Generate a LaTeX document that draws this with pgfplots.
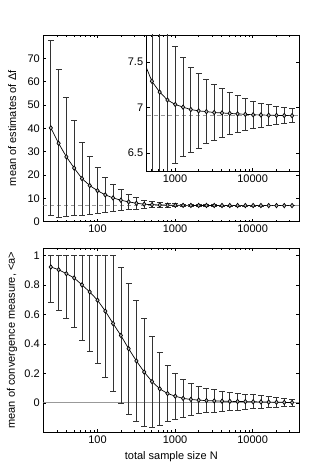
\documentclass[border=0pt]{standalone}
\usepackage{fontspec}
\setmainfont{Liberation Sans}
\usepackage{pgfplots}
\usepackage{pgfplotstable}
\pgfplotsset{compat=1.18}
\definecolor{errgray}{gray}{0.2}
\definecolor{refgray}{gray}{0.6}

% mean of the estimates of Delta f, with its spread
\pgfplotstableread{
N      m      e
25     40.2   37.6
31.5   33.6   31.6
39.7   27.8   25.4
50     23.0   20.4
63     18.5   15.6
79.4   15.5   12.4
100    13.3   9.9
126    11.5   7.6
158.7  10.2   5.9
200    9.2    4.5
252    8.5    3.4
317.5  7.9    2.5
400    7.5    1.8
504    7.29   1.35
635    7.17   1.05
800    7.083  0.85
1008   7.034  0.645
1270   7.004  0.545
1600   6.978  0.47
2016   6.963  0.41
2540   6.955  0.355
3200   6.945  0.31
4032   6.94   0.27
5080   6.935  0.235
6400   6.93   0.205
8063   6.925  0.175
10159  6.92   0.152
12800  6.918  0.133
16127  6.915  0.115
20319  6.913  0.1
25600  6.912  0.087
32254  6.91   0.077
}\estdata

% mean convergence measure <a>; upper bars stop at 1
\pgfplotstableread{
N      m      ep     em
25     0.921  0.079  0.241
31.5   0.903  0.097  0.275
39.7   0.876  0.124  0.306
50     0.847  0.153  0.338
63     0.800  0.200  0.374
79.4   0.752  0.248  0.405
100    0.696  0.304  0.428
126    0.622  0.378  0.451
158.7  0.538  0.461  0.461
200    0.457  0.462  0.462
252    0.367  0.445  0.445
317.5  0.284  0.410  0.410
400    0.209  0.367  0.367
504    0.144  0.308  0.308
635    0.095  0.246  0.246
800    0.063  0.190  0.190
1008   0.045  0.155  0.155
1270   0.030  0.130  0.130
1600   0.023  0.107  0.107
2016   0.018  0.092  0.092
2540   0.015  0.082  0.082
3200   0.013  0.075  0.075
4032   0.011  0.068  0.068
5080   0.010  0.062  0.062
6400   0.009  0.057  0.057
8063   0.008  0.052  0.052
10159  0.007  0.047  0.047
12800  0.006  0.043  0.043
16127  0.005  0.039  0.039
20319  0.004  0.034  0.034
25600  0.003  0.029  0.029
32254  0.002  0.024  0.024
}\convdata

\pgfplotsset{
  every axis/.append style={scale only axis,
    xtick={100,1000,10000}, xticklabels={100,1000,10000},
    tick align=inside, major tick length=3pt, minor tick length=1.8pt,
    tick style={black, line width=0.5pt}, axis line style={line width=0.7pt},
    tick label style={font=\fontsize{11}{13}\selectfont},
    label style={font=\fontsize{11}{13}\selectfont}},
  /pgf/number format/assume math mode=true,
}

\begin{document}
\begin{tikzpicture}
\useasboundingbox (0pt,0pt) rectangle (331pt,474pt);

\begin{semilogxaxis}[at={(43.3pt,252.3pt)}, anchor=south west,
  width=256pt, height=186.7pt, xmin=20, xmax=40000,
  minor xtick={20,30,40,50,60,70,80,90,200,300,400,500,600,700,800,900,
               2000,3000,4000,5000,6000,7000,8000,9000,20000,30000,40000},
  ymin=0, ymax=80, ytick={0,10,20,30,40,50,60,70},
  ylabel={mean of estimates of Δf},
  ylabel style={at={(axis description cs:-0.122,0.5)}, anchor=center}]
\addplot[refgray, line width=0.6pt, dash pattern=on 4pt off 3pt] coordinates {(20,6.91) (40000,6.91)};
\addplot[black, line width=0.7pt, mark=diamond*, mark size=2.2pt,
  mark options={fill=gray!50, draw=black, line width=0.7pt},
  error bars/.cd, y dir=both, y explicit,
  error bar style={errgray, line width=0.7pt},
  error mark options={rotate=90, errgray, mark size=3pt, line width=0.7pt}]
  table[x=N, y=m, y error=e] {\estdata};
\end{semilogxaxis}

\begin{semilogxaxis}[at={(146.7pt,303pt)}, anchor=south west,
  width=152.6pt, height=136pt, xmin=432, xmax=40000,
  minor xtick={500,600,700,800,900,2000,3000,4000,5000,6000,7000,8000,9000,20000,30000,40000},
  ymin=6.3, ymax=7.8, ytick={6.5,7,7.5},
  axis background/.style={fill=white}]
\addplot[refgray, line width=0.6pt, dash pattern=on 4pt off 3pt] coordinates {(432,6.91) (40000,6.91)};
\addplot[black, line width=0.7pt, mark=diamond*, mark size=2.2pt,
  mark options={fill=gray!50, draw=black, line width=0.7pt},
  error bars/.cd, y dir=both, y explicit,
  error bar style={errgray, line width=0.7pt},
  error mark options={rotate=90, errgray, mark size=3pt, line width=0.7pt}]
  table[x=N, y=m, y error=e] {\estdata};
\end{semilogxaxis}

\begin{semilogxaxis}[at={(43.3pt,41.7pt)}, anchor=south west,
  width=256pt, height=184.3pt, xmin=20, xmax=40000,
  minor xtick={20,30,40,50,60,70,80,90,200,300,400,500,600,700,800,900,
               2000,3000,4000,5000,6000,7000,8000,9000,20000,30000,40000},
  ymin=-0.2, ymax=1.05, ytick={0,0.2,0.4,0.6,0.8,1},
  ylabel={mean of convergence measure, <a>},
  ylabel style={at={(axis description cs:-0.122,0.5)}, anchor=center},
  xlabel={total sample size N},
  xlabel style={at={(axis description cs:0.5,-0.132)}, anchor=center}]
\addplot[refgray, line width=0.7pt] coordinates {(20,0) (40000,0)};
\addplot[black, line width=0.7pt, mark=diamond*, mark size=2.2pt,
  mark options={fill=gray!50, draw=black, line width=0.7pt},
  error bars/.cd, y dir=both, y explicit,
  error bar style={errgray, line width=0.7pt},
  error mark options={rotate=90, errgray, mark size=3pt, line width=0.7pt}]
  table[x=N, y=m, y error plus=ep, y error minus=em] {\convdata};
\end{semilogxaxis}
\end{tikzpicture}
\end{document}
